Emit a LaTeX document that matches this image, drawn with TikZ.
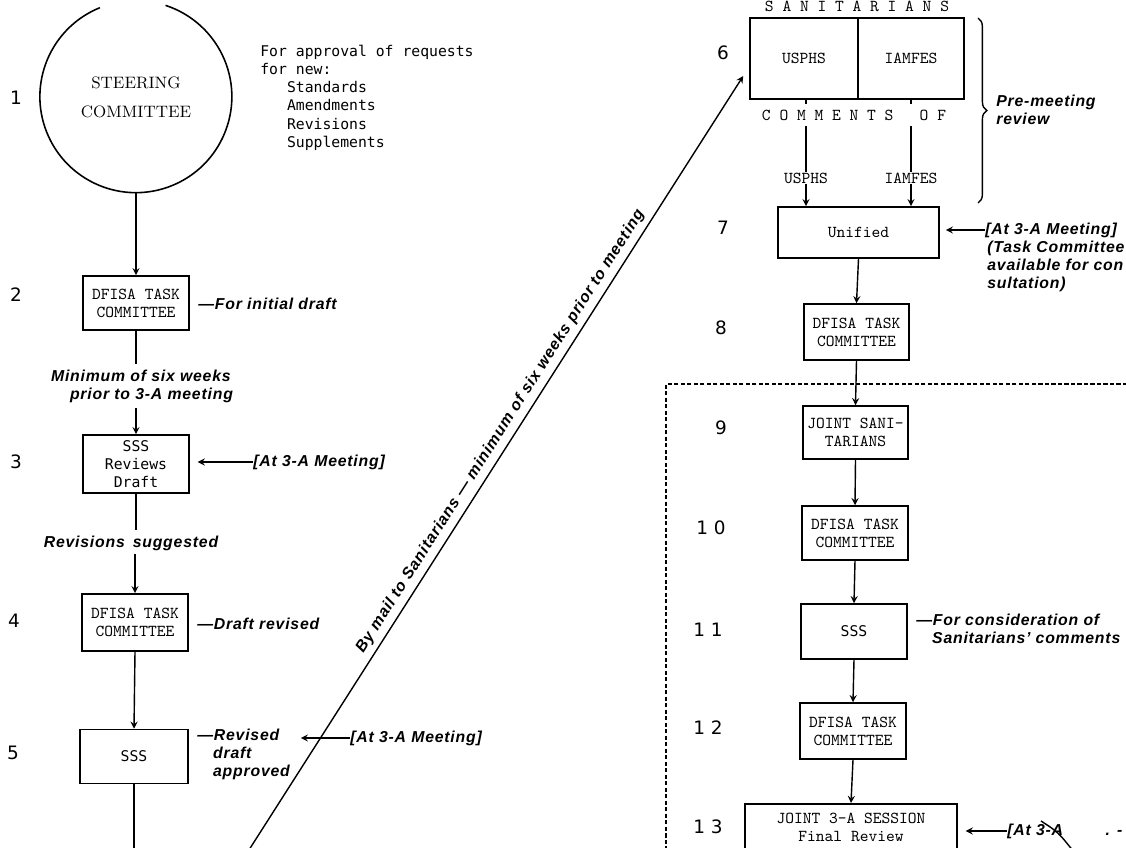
\documentclass[tikz,border=0pt]{standalone}
\usepackage{fontspec}
\newfontfamily\labelfont[LetterSpace=5]{Liberation Sans}
\newfontfamily\gothfont{DejaVu Sans Mono}
\newfontfamily\numfont{DejaVu Sans}
\usetikzlibrary{decorations.pathreplacing}
\tikzset{>=stealth}
\tikzset{
  box/.style={draw, line width=0.9pt, minimum width=2.12cm, minimum height=1.08cm,
    align=center, inner sep=1pt, font=\ttfamily\fontsize{9.5}{10.2}\selectfont},
  gbox/.style={box, font=\gothfont\fontsize{8.4}{10.2}\selectfont},
  typed/.style={inner sep=0pt, font=\ttfamily\fontsize{9.5}{10.2}\selectfont},
  remark/.style={align=left, inner sep=0pt,
    font=\labelfont\bfseries\itshape\fontsize{9}{10.2}\selectfont},
  num/.style={font=\numfont\fontsize{10.5}{11}\selectfont},
  link/.style={line width=0.8pt},
}

\begin{document}
\begin{tikzpicture}[x=0.02cm, y=-0.02cm]
    \useasboundingbox (0,0) rectangle (1126,848);
    \clip (0,0) rectangle (1126,848);

    % step numbers
    \node[num] (n1) at (16,98) {1};
    \node[num] (n2) at (16,295) {2};
    \node[num] (n3) at (16,462) {3};
    \node[num] (n4) at (14,621) {4};
    \node[num] (n5) at (13,753) {5};
    \node[num] (n6) at (723,53) {6};
    \node[num] (n7) at (723,228) {7};
    \node[num] (n8) at (721,328) {8};
    \node[num] (n9) at (721,428) {9};
    \node[num] (n10) at (711,528) {1 0};
    \node[num] (n11) at (708,630) {1 1};
    \node[num] (n12) at (708,728) {1 2};
    \node[num] (n13) at (708,827) {1 3};

    % left column
    \node[circle, minimum size=3.84cm, inner sep=0pt, align=center,
      font=\rmfamily\fontsize{9.4}{16.4}\selectfont] (steer) at (136,97) {STEERING\\COMMITTEE};
    \draw[line width=0.9pt] (steer.112) arc[start angle=112, end angle=432, radius=1.92cm];
    \node[anchor=north west, align=left, inner sep=0pt,
      font=\gothfont\fontsize{8.4}{10.3}\selectfont] (approval) at (260,45)
      {For approval of requests\\for new:\\\phantom{for}Standards\\\phantom{for}Amendments\\
       \phantom{for}Revisions\\\phantom{for}Supplements};

    \node[box] (dfisa2) at (136,303) {DFISA TASK\\COMMITTEE};
    \node[remark, anchor=west] (draft2) at (198,304) {—For initial draft};
    \node[remark] (gap23) at (142,386) {Minimum of six weeks\\\hspace*{1.2em}prior to 3-A meeting};
    \node[gbox, minimum height=1.16cm] (sss3) at (136,464) {SSS\\Reviews\\Draft};
    \node[remark, anchor=west] (meet3) at (253,462) {[At 3-A Meeting]};
    \node[remark] (gap34) at (131,543) {Revisions\enspace suggested};
    \node[box, minimum height=1.14cm] (dfisa4) at (135,622.5) {DFISA TASK\\COMMITTEE};
    \node[remark, anchor=west] (rev4) at (197,624) {—Draft revised};
    \node[gbox, minimum width=2.16cm] (sss5) at (134,756.5) {SSS};
    \node[remark, anchor=north west] (rev5) at (197,729)
      {—Revised\\\phantom{—}draft\\\phantom{—}approved};
    \node[remark, anchor=west] (meet5) at (350,738) {[At 3-A Meeting]};
    \coordinate (down5) at (136,870);

    \draw[->, link] (steer.south) -- (dfisa2.north);
    \draw[link, shorten >=3pt] (dfisa2.south) -- (dfisa2.south |- gap23.north);
    \draw[->, link, shorten <=3pt] (sss3.north |- gap23.south) -- (sss3.north);
    \draw[link, shorten >=3pt] (sss3.south) -- (sss3.south |- gap34.north);
    \draw[->, link, shorten <=2pt] (dfisa4.north |- gap34.south) -- (dfisa4.north);
    \draw[->, link] (dfisa4.south) -- (sss5.north);
    \draw[link] (sss5.south) -- (sss5.south |- down5);
    \draw[->, link, shorten >=4.5pt] (meet3.west) -- (meet3.west -| sss3.east);
    \draw[->, link, shorten >=6pt] (meet5.west) -- (meet5.west -| rev5.east);

    % right column
    \node[typed] (sanit) at (857,6) {S A N I T A R I A N S};
    \node[box, minimum width=2.16cm, minimum height=1.62cm] (usphs) at (804,58.5) {USPHS};
    \node[box, minimum width=2.12cm, minimum height=1.62cm] (iamfes) at (911,58.5) {IAMFES};
    \node[box, minimum width=3.22cm, minimum height=1.02cm] (unified) at (858.5,232.5) {Unified};
    \node[typed] (usphs2) at (806,178) {USPHS};
    \node[typed] (iamfes2) at (911,178) {IAMFES};
    \draw[link] (usphs2 |- usphs.south) -- (usphs2.north);
    \draw[link] (iamfes2 |- iamfes.south) -- (iamfes2.north);
    \node[typed, fill=white, inner ysep=3.2pt] (comments) at (854,115) {C O M M E N T S\ \ \ O F};
    \draw[->, link] (usphs2.south) -- (usphs2 |- unified.north);
    \draw[->, link] (iamfes2.south) -- (iamfes2 |- unified.north);

    \coordinate (brtop) at (978,18);
    \coordinate (brbot) at (978,203);
    \draw[link, decorate, decoration={brace, amplitude=5pt}] (brtop) -- (brbot);
    \node[remark, anchor=west] (premeet) at (996,110) {Pre-meeting\\review};

    \node[remark, anchor=west] (meet7) at (985,230) {[At 3-A Meeting]};
    \node[remark, anchor=north west] (task7) at (987,241)
      {(Task Committee\\available for con\\sultation)};
    \draw[->, link, shorten >=3.4pt] (meet7.west) -- (meet7.west -| unified.east);

    \coordinate (mailfoot) at (240,864);
    \coordinate (mailtip) at ([xshift=-0.12cm, yshift=-0.35cm]usphs.west);
    \draw[->, link] (mailfoot) -- (mailtip)
      node[remark, pos=0.54, sloped, above=3pt] {By mail to Sanitarians — minimum of six weeks prior to meeting};

    \node[box, minimum width=2.1cm, minimum height=1.12cm] (dfisa8) at (856.5,332) {DFISA TASK\\COMMITTEE};
    \draw[dashed, dash pattern=on 2.5pt off 1.2pt, line width=0.8pt] (1140,384) -| (666,870);
    \node[box, minimum width=2.1cm, minimum height=1.06cm] (joint9) at (855.5,432.5) {JOINT SANI-\\TARIANS};
    \node[box, minimum width=2.12cm] (dfisa10) at (855,533) {DFISA TASK\\COMMITTEE};
    \node[gbox, minimum width=2.12cm, minimum height=1.1cm] (sss11) at (854,631.5) {SSS};
    \node[remark, anchor=north west] (consid11) at (916,614)
      {—For consideration of\\\phantom{—}Sanitarians’ comments};
    \node[box, minimum width=2.12cm, minimum height=1.12cm] (dfisa12) at (853,731) {DFISA TASK\\COMMITTEE};
    \node[box, anchor=north, minimum width=4.24cm, minimum height=1.8cm] (joint13) at (851,803) {};
    \node[typed, align=center] (final13) at (851,827) {JOINT 3-A SESSION\\Final Review};
    \node[remark, anchor=west] (meet13) at (1007,831) {[At 3-A};
    \node[remark] (dots13) at (1114,833) {. -};
    \draw[link] (1041,821) .. controls (1058,832) .. (1074,852);

    \draw[->, link] (unified.south) -- (dfisa8.north);
    \draw[->, link] (dfisa8.south) -- (joint9.north);
    \draw[->, link] (joint9.south) -- (dfisa10.north);
    \draw[->, link] (dfisa10.south) -- (sss11.north);
    \draw[->, link] (sss11.south) -- (dfisa12.north);
    \draw[->, link] (dfisa12.south) -- (joint13.north);
    \draw[->, link, shorten >=4.5pt] (meet13.west) -- (meet13.west -| joint13.east);
\end{tikzpicture}
\end{document}
